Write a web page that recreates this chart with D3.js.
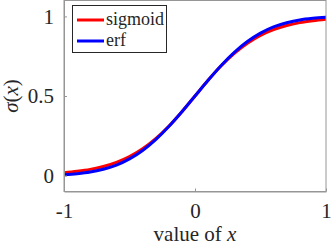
<!DOCTYPE html>
<html>
<head>
<meta charset="utf-8">
<script src="https://cdn.jsdelivr.net/npm/d3@7"></script>
<style>
  body { margin: 0; background: #fff; }
  svg { display: block; }
</style>
</head>
<body>
<div id="chart"></div>
<script>
// values
const xs = [-1, -0.9, -0.8, -0.7, -0.6, -0.5, -0.4, -0.3, -0.2, -0.1, 0,
            0.1, 0.2, 0.3, 0.4, 0.5, 0.6, 0.7, 0.8, 0.9, 1];
const sigmoidVals = [0.018, 0.027, 0.039, 0.057, 0.083, 0.119, 0.168, 0.232, 0.310, 0.401, 0.5,
                     0.599, 0.690, 0.768, 0.832, 0.881, 0.917, 0.943, 0.961, 0.973, 0.982];
const erfVals = [0.006, 0.012, 0.022, 0.040, 0.066, 0.105, 0.158, 0.226, 0.308, 0.401, 0.5,
                 0.599, 0.692, 0.774, 0.842, 0.895, 0.934, 0.960, 0.978, 0.988, 0.994];
const xTicks = [-1, 0, 1];
const yTicks = [0, 0.5, 1];
const xTickLabels = ["-1", "0", "1"];
const yTickLabels = ["0", "0.5", "1"];
const seriesNames = ["sigmoid", "erf"];
const seriesColors = ["#ff0000", "#0000ff"];

const FONT = "'Liberation Serif', 'Times New Roman', serif";
const W = 332, H = 246;
const margin = {left: 64, right: 6, top: 0.5, bottom: 54.5};

const svg = d3.select("#chart").append("svg")
    .attr("width", W)
    .attr("height", H)
    .attr("font-family", FONT);

const x = d3.scaleLinear().domain([-1, 1]).range([margin.left, W - margin.right]);
const y = d3.scaleLinear().domain([-0.1, 1.1]).range([H - margin.bottom, margin.top]);

// curves
const line = d3.line()
    .x(d => x(d[0]))
    .y(d => y(d[1]))
    .curve(d3.curveMonotoneX);

const series = [sigmoidVals, erfVals];
series.forEach(function(vals, i) {
    svg.append("path")
        .datum(xs.map((v, j) => [v, vals[j]]))
        .attr("fill", "none")
        .attr("stroke", seriesColors[i])
        .attr("stroke-width", 3)
        .attr("d", line);
});

// axes box
const axisColor = "#969696";
svg.append("rect")
    .attr("x", x(-1)).attr("y", y(1.1))
    .attr("width", x(1) - x(-1)).attr("height", y(-0.1) - y(1.1))
    .attr("fill", "none").attr("stroke", axisColor).attr("stroke-width", 1);

svg.append("g")
    .attr("transform", `translate(0,${y(-0.1)})`)
    .call(d3.axisBottom(x).tickValues(xTicks).tickSizeInner(-3).tickSizeOuter(0).tickPadding(12)
        .tickFormat((d, i) => xTickLabels[i]))
    .attr("font-family", FONT)
    .call(g => g.select(".domain").attr("stroke", axisColor))
    .call(g => g.selectAll(".tick line").attr("stroke", axisColor))
    .call(g => g.selectAll(".tick text").attr("font-size", 21).attr("fill", "#262626"));

svg.append("g")
    .attr("transform", `translate(${x(-1)},0)`)
    .call(d3.axisLeft(y).tickValues(yTicks).tickSizeInner(-3).tickSizeOuter(0).tickPadding(10)
        .tickFormat((d, i) => yTickLabels[i]))
    .attr("font-family", FONT)
    .call(g => g.select(".domain").attr("stroke", axisColor))
    .call(g => g.selectAll(".tick line").attr("stroke", axisColor))
    .call(g => g.selectAll(".tick text").attr("font-size", 21).attr("fill", "#262626"));

// axis labels
const xl = svg.append("text")
    .attr("x", x(0)).attr("y", 241)
    .attr("text-anchor", "middle")
    .attr("font-size", 21)
    .attr("fill", "#262626");
xl.append("tspan").text("value of ");
xl.append("tspan").attr("font-style", "italic").text("x");

const yl = svg.append("text")
    .attr("transform", `translate(18,${y(0.5)}) rotate(-90)`)
    .attr("text-anchor", "middle")
    .attr("font-size", 21)
    .attr("fill", "#262626");
yl.append("tspan").attr("font-style", "italic").text("σ");
yl.append("tspan").text("(");
yl.append("tspan").attr("font-style", "italic").text("x");
yl.append("tspan").text(")");

// legend
const legend = svg.append("g");
legend.append("rect")
    .attr("x", 72.5).attr("y", 5.5).attr("width", 94).attr("height", 47)
    .attr("fill", "#fff").attr("stroke", "#262626").attr("stroke-width", 1);
seriesNames.forEach(function(name, i) {
    const ly = 20 + i * 21;
    legend.append("line")
        .attr("x1", 77).attr("x2", 104).attr("y1", ly).attr("y2", ly)
        .attr("stroke", seriesColors[i]).attr("stroke-width", 3);
    legend.append("text")
        .attr("x", 106).attr("y", ly + 5)
        .attr("font-size", 18)
        .attr("fill", "#262626")
        .text(name);
});
</script>
</body>
</html>
